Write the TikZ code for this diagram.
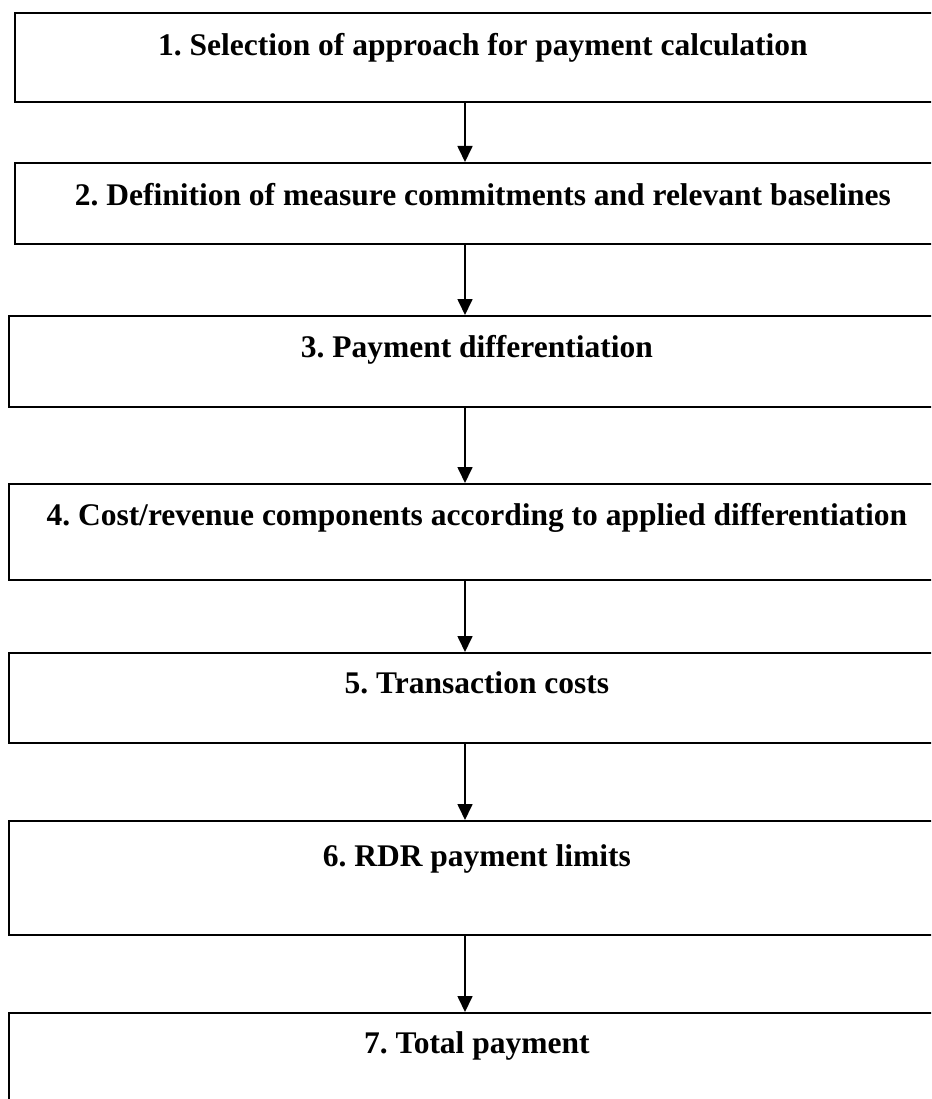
\documentclass[tikz,border=0pt]{standalone}
\usepackage{fontspec}
\setmainfont{Liberation Serif}
\usepackage{tikz}
\usetikzlibrary{arrows.meta,positioning}
\frenchspacing

\begin{document}
\begin{tikzpicture}[
  x=1pt, y=-1pt,
  font=\fontsize{31.5pt}{36pt}\selectfont\bfseries,
  stepbox/.style={draw=black, line width=1.7pt, anchor=north west, inner sep=0pt,
    minimum width=936pt, text height=43pt},
  flow/.style={-{Triangle[length=16pt,width=15pt]}, line width=1.7pt, draw=black}
]
\useasboundingbox (0,0) rectangle (931,1099);
\clip (0,0) rectangle (931,1099);

% The boxes run past the right edge of the page, as in the source.
\node[stepbox, minimum height=89pt, text depth=46pt] (sel) at (14,12)
  {1. Selection of approach for payment calculation};
\node[stepbox, minimum height=81pt, text depth=38pt] (def) at (14,162)
  {2. Definition of measure commitments and relevant baselines};
\node[stepbox, minimum height=91pt, text depth=49pt, text height=42pt] (diff) at (8,315)
  {3. Payment differentiation};
\node[stepbox, minimum height=96pt, text depth=54pt, text height=42pt] (comp) at (8,483)
  {4. Cost/revenue components according to applied differentiation};
\node[stepbox, minimum height=90pt, text depth=49pt, text height=41pt] (trans) at (8,652)
  {5. Transaction costs};
\node[stepbox, minimum height=114pt, text depth=68pt, text height=46pt] (rdr) at (8,820)
  {6. RDR payment limits};
\node[stepbox, minimum height=120pt, text depth=79pt, text height=41pt] (total) at (8,1012)
  {7. Total payment};

% Arrows all sit on one vertical line.
\coordinate (axis) at (465,0);
\draw[flow] (sel.south -| axis) -- (def.north -| axis);
\draw[flow] (def.south -| axis) -- (diff.north -| axis);
\draw[flow] (diff.south -| axis) -- (comp.north -| axis);
\draw[flow] (comp.south -| axis) -- (trans.north -| axis);
\draw[flow] (trans.south -| axis) -- (rdr.north -| axis);
\draw[flow] (rdr.south -| axis) -- (total.north -| axis);
\end{tikzpicture}
\end{document}
